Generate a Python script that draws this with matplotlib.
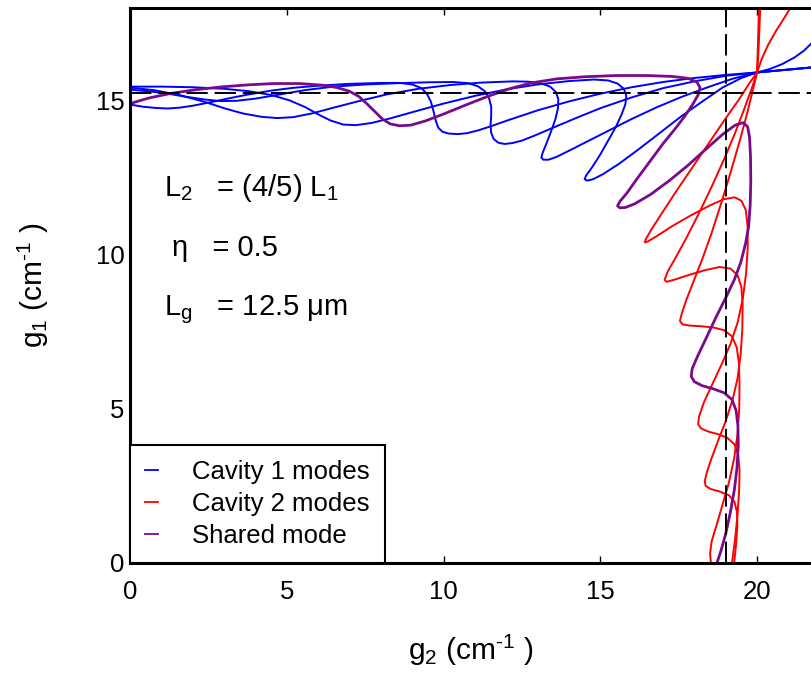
import matplotlib
matplotlib.use("Agg")
import matplotlib.pyplot as plt

plt.rcParams['font.family'] = ['Liberation Sans', 'DejaVu Sans']
plt.rcParams['mathtext.fontset'] = 'custom'
plt.rcParams['mathtext.rm'] = 'Liberation Sans'
plt.rcParams['mathtext.it'] = 'Liberation Sans'

# cavity 1 modes (g2, g1)
b1_x = [0, 0.4, 0.8, 1.2, 1.6, 2.0, 2.6, 3.2, 3.8, 4.5, 5.2, 6.0, 7.0, 8.0, 8.6, 9.0, 9.3, 9.48, 9.6, 9.68, 9.75, 9.83, 9.96, 10.15, 10.45, 10.75, 11.1, 11.5, 12.0, 13.0, 14.0, 15.0, 16.0, 17.0, 18.0, 19.0, 20.0, 21.72]
b1_y = [14.87, 14.8, 14.76, 14.74, 14.77, 14.83, 14.95, 15.08, 15.2, 15.32, 15.41, 15.48, 15.54, 15.57, 15.57, 15.52, 15.4, 15.2, 14.95, 14.65, 14.35, 14.12, 13.99, 13.93, 13.91, 13.94, 14.03, 14.16, 14.34, 14.68, 14.97, 15.22, 15.43, 15.6, 15.73, 15.83, 15.91, 16.07]
b2_x = [0, 0.6, 1.2, 1.8, 2.4, 2.9, 3.4, 4.0, 4.8, 5.6, 6.5, 7.5, 8.5, 9.5, 10.3, 10.8, 11.1, 11.32, 11.45, 11.52, 11.52, 11.5, 11.52, 11.6, 11.75, 11.95, 12.2, 12.5, 12.9, 13.5, 14.2, 15.0, 16.0, 17.0, 18.0, 19.0, 20.0, 21.72]
b2_y = [15.35, 15.3, 15.22, 15.12, 15.03, 14.98, 14.99, 15.06, 15.2, 15.34, 15.45, 15.52, 15.56, 15.59, 15.6, 15.56, 15.46, 15.3, 15.08, 14.8, 14.5, 14.2, 13.95, 13.75, 13.63, 13.59, 13.62, 13.7, 13.86, 14.12, 14.42, 14.75, 15.1, 15.4, 15.62, 15.8, 15.91, 16.07]
b3_x = [0, 0.8, 1.6, 2.4, 3.0, 3.6, 4.2, 4.7, 5.2, 5.8, 6.5, 7.3, 8.2, 9.2, 10.2, 11.2, 12.2, 12.7, 13.1, 13.4, 13.58, 13.66, 13.65, 13.57, 13.43, 13.28, 13.16, 13.12, 13.18, 13.35, 13.6, 14.0, 14.6, 15.3, 16.0, 16.8, 17.6, 18.4, 19.2, 20.0, 21.72]
b3_y = [15.42, 15.33, 15.17, 14.95, 14.75, 14.58, 14.47, 14.43, 14.46, 14.58, 14.77, 14.98, 15.2, 15.38, 15.5, 15.58, 15.62, 15.61, 15.56, 15.45, 15.28, 15.05, 14.75, 14.4, 14.0, 13.6, 13.3, 13.15, 13.08, 13.08, 13.17, 13.37, 13.68, 14.04, 14.4, 14.78, 15.12, 15.42, 15.7, 15.91, 16.07]
b4_x = [0, 1, 2, 3, 3.8, 4.5, 5.1, 5.6, 6.0, 6.4, 6.8, 7.2, 7.7, 8.3, 9.0, 10.0, 11.0, 12.0, 13.0, 14.0, 14.8, 15.25, 15.55, 15.75, 15.83, 15.8, 15.68, 15.5, 15.25, 15.0, 14.75, 14.55, 14.5, 14.58, 14.78, 15.1, 15.6, 16.2, 16.9, 17.6, 18.3, 18.9, 19.5, 20.0, 20.4, 20.8, 21.2, 21.5, 21.72]
b4_y = [15.45, 15.45, 15.43, 15.38, 15.3, 15.18, 15.0, 14.78, 14.55, 14.35, 14.22, 14.2, 14.27, 14.42, 14.62, 14.9, 15.15, 15.36, 15.52, 15.63, 15.68, 15.65, 15.55, 15.38, 15.15, 14.88, 14.55, 14.15, 13.7, 13.25, 12.85, 12.57, 12.45, 12.4, 12.45, 12.62, 12.95, 13.4, 13.95, 14.5, 15.0, 15.42, 15.73, 15.91, 16.02, 16.18, 16.4, 16.62, 16.84]

# cavity 2 modes
r1_x = [19.20, 19.3, 19.38, 19.43, 19.44, 19.4, 19.28, 19.05, 18.75, 18.45, 18.22, 18.12, 18.15, 18.3, 18.55, 18.85, 19.15, 19.38, 19.55, 19.65, 19.7, 19.7, 19.64, 19.5, 19.28, 18.95, 18.5, 17.9, 17.3, 16.8, 16.5, 16.42, 16.45, 16.65, 17.0, 17.45, 17.95, 18.45, 18.95, 19.4, 19.75, 20.0, 20.04, 20.07, 20.1]
r1_y = [0, 0.8, 1.6, 2.4, 3.0, 3.5, 3.85, 4.06, 4.18, 4.26, 4.36, 4.5, 4.75, 5.2, 5.75, 6.4, 7.1, 7.8, 8.6, 9.4, 10.2, 10.9, 11.45, 11.75, 11.86, 11.8, 11.6, 11.28, 10.93, 10.6, 10.42, 10.4, 10.5, 10.85, 11.4, 12.1, 12.85, 13.6, 14.35, 15.0, 15.55, 15.91, 16.5, 17.2, 17.98]
r2_x = [19.27, 19.33, 19.37, 19.36, 19.28, 19.1, 18.8, 18.52, 18.36, 18.33, 18.4, 18.55, 18.75, 19.0, 19.22, 19.38, 19.48, 19.53, 19.54, 19.5, 19.38, 19.15, 18.8, 18.35, 17.85, 17.4, 17.12, 17.05, 17.15, 17.4, 17.75, 18.15, 18.55, 18.95, 19.3, 19.6, 19.85, 20.0, 20.15, 20.35, 20.6, 20.85, 21.05]
r2_y = [0, 0.6, 1.2, 1.65, 1.98, 2.2, 2.32, 2.4, 2.5, 2.65, 2.95, 3.4, 3.95, 4.6, 5.3, 6.0, 6.8, 7.6, 8.4, 8.95, 9.33, 9.55, 9.6, 9.5, 9.35, 9.2, 9.12, 9.18, 9.45, 9.9, 10.55, 11.35, 12.2, 13.1, 13.95, 14.75, 15.45, 15.91, 16.35, 16.8, 17.25, 17.65, 17.98]
r3_x = [18.53, 18.5, 18.55, 18.7, 18.9, 19.1, 19.27, 19.38, 19.43, 19.44, 19.42, 19.35, 19.2, 18.95, 18.6, 18.2, 17.85, 17.62, 17.54, 17.6, 17.75, 17.98, 18.25, 18.55, 18.85, 19.15, 19.45, 19.7, 19.88, 20.0, 20.03, 20.06]
r3_y = [0, 0.3, 0.7, 1.2, 1.9, 2.6, 3.4, 4.2, 5.0, 5.8, 6.5, 7.0, 7.35, 7.55, 7.64, 7.68, 7.7, 7.74, 7.85, 8.1, 8.55, 9.15, 9.85, 10.7, 11.65, 12.65, 13.7, 14.65, 15.4, 15.91, 16.9, 17.98]

# shared mode
p_x = [0, 0.6, 1.3, 2.1, 2.9, 3.8, 4.6, 5.4, 6.1, 6.6, 7.0, 7.3, 7.55, 7.8, 8.05, 8.3, 8.6, 8.95, 9.4, 10.0, 10.7, 11.4, 12.1, 12.8, 13.6, 14.5, 15.5, 16.5, 17.3, 17.8, 18.08, 18.18, 18.12, 17.95, 17.7, 17.4, 17.0, 16.6, 16.2, 15.85, 15.62, 15.55, 15.62, 15.8, 16.1, 16.6, 17.2, 17.8, 18.4, 18.9, 19.3, 19.55, 19.7, 19.76, 19.79, 19.8, 19.78, 19.73, 19.63, 19.48, 19.28, 19.0, 18.68, 18.38, 18.1, 17.93, 17.9, 18.0, 18.25, 18.6, 18.95, 19.2, 19.33, 19.39, 19.4, 19.36, 19.28, 19.15, 19.0, 18.85, 18.72]
p_y = [14.90, 15.08, 15.23, 15.35, 15.44, 15.51, 15.55, 15.55, 15.5, 15.42, 15.3, 15.13, 14.9, 14.65, 14.4, 14.24, 14.18, 14.2, 14.33, 14.56, 14.85, 15.13, 15.38, 15.57, 15.7, 15.77, 15.81, 15.81, 15.78, 15.72, 15.6, 15.42, 15.18, 14.88, 14.5, 14.1, 13.6, 13.05, 12.5, 12.0, 11.72, 11.58, 11.52, 11.53, 11.65, 11.95, 12.4, 12.9, 13.45, 13.9, 14.2, 14.28, 14.15, 13.8, 13.2, 12.4, 11.6, 10.9, 10.35, 9.75, 9.2, 8.6, 7.95, 7.3, 6.7, 6.3, 6.05, 5.88, 5.75, 5.65, 5.52, 5.3, 4.95, 4.45, 3.8, 3.1, 2.4, 1.65, 0.95, 0.4, 0.0]

g2_cross = 19.0
g1_cross = 15.25

fig = plt.figure(figsize=(8.11, 6.73), dpi=100)
ax = fig.add_axes([130 / 811, 110 / 673, 681 / 811, 555 / 673])

blue = '#0000ff'
red = '#ff0000'
purple = '#7a0a8c'
lw = 1.4

for xs, ys in [(b1_x, b1_y), (b2_x, b2_y), (b3_x, b3_y), (b4_x, b4_y)]:
    ax.plot(xs, ys, color=blue, lw=lw)
for xs, ys in [(r1_x, r1_y), (r2_x, r2_y), (r3_x, r3_y)]:
    ax.plot(xs, ys, color=red, lw=lw)
ax.plot(p_x, p_y, color=purple, lw=2.0)

ax.axvline(g2_cross, color='black', lw=1.4, dashes=(11, 3.5))
ax.axhline(g1_cross, color='black', lw=1.4, dashes=(11, 3.5))

# legend proxies
ax.plot([], [], color=blue, lw=1.3, label='Cavity 1 modes')
ax.plot([], [], color=red, lw=1.3, label='Cavity 2 modes')
ax.plot([], [], color=purple, lw=1.3, label='Shared mode')
handles, labels = ax.get_legend_handles_labels()
leg = ax.legend(handles, labels, loc='lower left', borderaxespad=0, fontsize=18.5,
                handlelength=0.5, handletextpad=1.3, labelspacing=0.3,
                borderpad=0.6, fancybox=False, framealpha=1, edgecolor='black')
leg.get_frame().set_linewidth(1.5)

ax.text(1.1, 11.9, 'L$_2$   = (4/5) L$_1$', fontsize=21)
ax.text(1.35, 9.95, '\u03b7   = 0.5', fontsize=21)
ax.text(1.1, 8.05, 'L$_\\mathrm{g}$   = 12.5 \u03bcm', fontsize=21)

ax.set_xlim(0, 21.72)
ax.set_ylim(0, 18)
ax.set_xticks([0, 5, 10, 15, 20])
ax.set_yticks([0, 5, 10, 15])
ax.tick_params(axis='x', direction='in', length=5, width=1, top=True, labelsize=18.5, pad=12)
ax.tick_params(axis='y', direction='in', length=0, labelsize=18.5, pad=4)
for side in ['left', 'bottom', 'top']:
    ax.spines[side].set_linewidth(2.2)
ax.spines['right'].set_visible(False)

ax.set_xlabel('g$_2$ (cm$^{\\text{-1}}$ )', fontsize=21.5, labelpad=21)
ax.set_ylabel('g$_1$ (cm$^{\\text{-1}}$ )', fontsize=21.5, labelpad=32)

fig.savefig('out.png', dpi=100)
